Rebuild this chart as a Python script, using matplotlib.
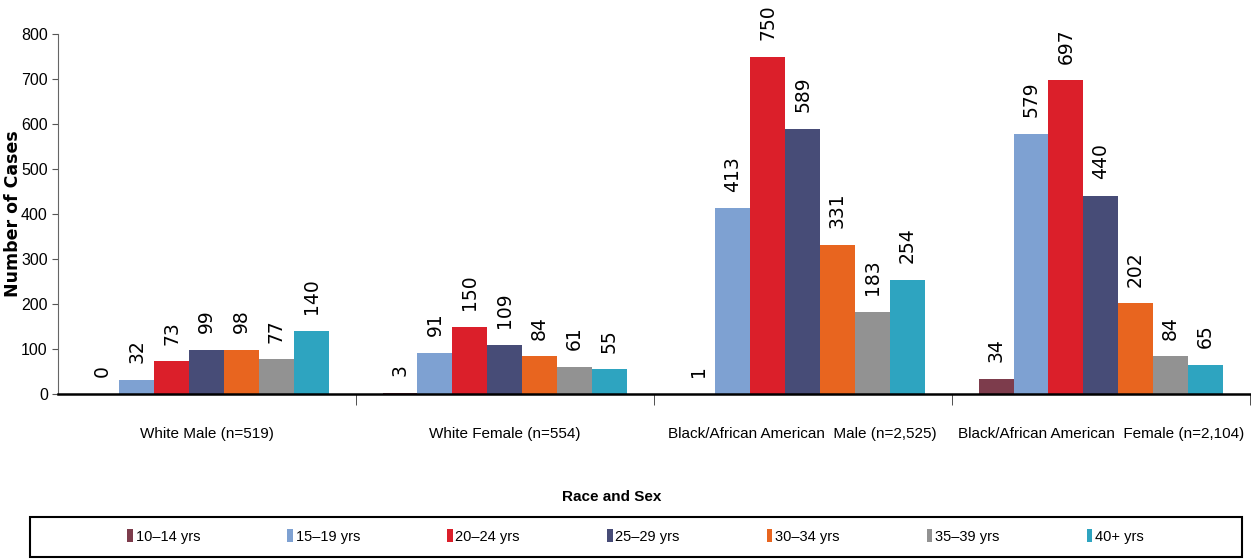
import numpy as np
import matplotlib.pyplot as plt
from matplotlib.patches import Rectangle

# --- Datos ---
grupos = ['White Male (n=519)', 'White Female (n=554)',
          'Black/African American  Male (n=2,525)',
          'Black/African American  Female (n=2,104)']
edades = ['10–14 yrs', '15–19 yrs', '20–24 yrs', '25–29 yrs',
          '30–34 yrs', '35–39 yrs', '40+ yrs']
casos_10_14 = [0, 3, 1, 34]
casos_15_19 = [32, 91, 413, 579]
casos_20_24 = [73, 150, 750, 697]
casos_25_29 = [99, 109, 589, 440]
casos_30_34 = [98, 84, 331, 202]
casos_35_39 = [77, 61, 183, 84]
casos_40_mas = [140, 55, 254, 65]
series = [casos_10_14, casos_15_19, casos_20_24, casos_25_29,
          casos_30_34, casos_35_39, casos_40_mas]
colores = ['#7d3c4c', '#7ea1d2', '#db1f2a', '#474c77',
           '#e8651f', '#929292', '#2ea4c0']

sans = ['Liberation Sans', 'DejaVu Sans']

fig = plt.figure(figsize=(12.51, 5.59), dpi=100)
ax = fig.add_axes([0.046, 0.295, 0.953, 0.644])

x = np.arange(len(grupos))
ancho = 0.117
for i, (vals, col) in enumerate(zip(series, colores)):
    pos = x + (i - 3) * ancho
    ax.bar(pos, vals, ancho, color=col, label=edades[i])
    # etiquetas verticales sobre cada barra
    for xb, v in zip(pos, vals):
        ax.annotate(str(v), (xb, v), xytext=(0, 12), textcoords='offset points',
                    rotation=90, ha='center', va='bottom', fontsize=13.5,
                    annotation_clip=False)

ax.set_xlim(-0.5, 3.5)
ax.set_ylim(0, 800)
ax.set_yticks(range(0, 801, 100))
ax.set_yticklabels([str(v) for v in range(0, 801, 100)], family=sans, fontsize=11.5)
ax.set_xticks(x)
ax.set_xticklabels(grupos, family=sans, fontsize=11)
ax.tick_params(axis='x', which='major', length=0, pad=24)
ax.set_xticks([0.5, 1.5, 2.5, 3.5], minor=True)
ax.tick_params(axis='x', which='minor', length=8, direction='out', color='#333333')
ax.tick_params(axis='y', length=4, color='#555555', pad=3)

for s in ['top', 'right']:
    ax.spines[s].set_visible(False)
ax.spines['left'].set_color('#666666')
ax.spines['bottom'].set_linewidth(1.8)

ax.set_ylabel('Number of Cases', fontsize=12.5, fontweight='bold')
ax.yaxis.set_label_coords(-0.030, 0.5)

fig.text(0.489, 0.111, 'Race and Sex', ha='center', va='center',
         family=sans, fontsize=11, fontweight='bold')

# Caja de la leyenda
fig.patches.append(Rectangle((0.024, 0.004), 0.969, 0.071, transform=fig.transFigure,
                             fill=False, edgecolor='black', linewidth=1.5))
fig.legend(loc='center left', bbox_to_anchor=(0.0955, 0.040), ncol=7, frameon=False,
           borderpad=0, handlelength=0.4, handleheight=1.0, handletextpad=0.2,
           columnspacing=5.95, prop={'family': sans, 'size': 10.5})

fig.savefig('out.png', dpi=100)
